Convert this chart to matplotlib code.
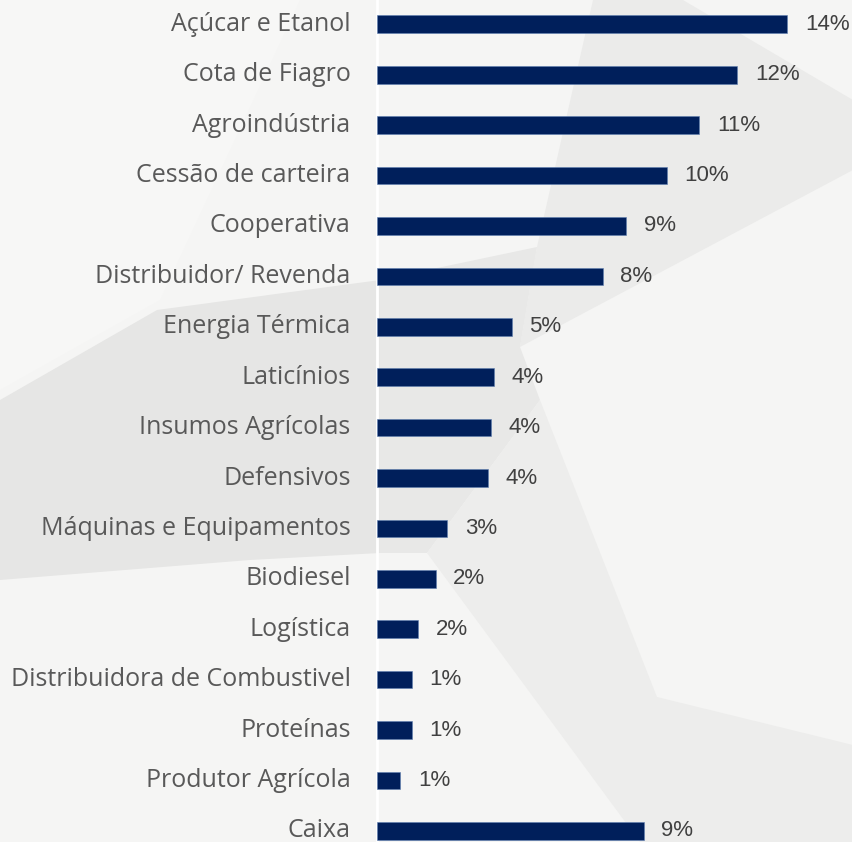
import matplotlib.pyplot as plt
import matplotlib.transforms as mtransforms
from matplotlib.patches import Polygon


# ==========================================================
# DATA
# ==========================================================

categories = [
    "Açúcar e Etanol",
    "Cota de Fiagro",
    "Agroindústria",
    "Cessão de carteira",
    "Cooperativa",
    "Distribuidor/ Revenda",
    "Energia Térmica",
    "Laticínios",
    "Insumos Agrícolas",
    "Defensivos",
    "Máquinas e Equipamentos",
    "Biodiesel",
    "Logística",
    "Distribuidora de Combustivel",
    "Proteínas",
    "Produtor Agrícola",
    "Caixa",
]

# share of portfolio, %
values = [14.0, 12.3, 11.0, 9.9, 8.5, 7.7, 4.6, 4.0, 3.9, 3.8,
          2.4, 2.0, 1.4, 1.2, 1.2, 0.8, 9.1]

value_labels = ["14%", "12%", "11%", "10%", "9%", "8%", "5%", "4%", "4%",
                "4%", "3%", "2%", "2%", "1%", "1%", "1%", "9%"]


# ==========================================================
# FIGURE
# ==========================================================

W, H = 853, 842
fig = plt.figure(figsize=(W / 100, H / 100), dpi=100)
fig.patch.set_facecolor("#f5f5f4")


def px(points):
    # pixel coords (top-left origin) -> figure fraction
    return [(x / W, 1 - y / H) for x, y in points]


# ----------------------------------------------------------
# decorative background (soft grey geometric shapes)
# ----------------------------------------------------------
shapes = [
    ([(0, 0), (300, 0), (160, 300), (0, 390)], "#f7f7f6"),
    ([(0, 400), (157, 310), (380, 280), (380, 553), (250, 560), (0, 580)], "#e6e6e5"),
    ([(593, 0), (683, 0), (853, 100), (853, 170), (520, 347), (537, 247)], "#ebebea"),
    ([(380, 280), (537, 247), (520, 347), (540, 400), (427, 553), (380, 553)], "#e8e8e7"),
    ([(540, 400), (657, 697), (853, 745), (853, 842), (640, 842), (427, 553)], "#ededec"),
]
for pts, col in shapes:
    fig.patches.append(
        Polygon(px(pts), closed=True, transform=fig.transFigure,
                facecolor=col, edgecolor="none", zorder=-1)
    )

ax = fig.add_axes([377 / W, 0, 1 - 377 / W, 1])
ax.set_zorder(2)
ax.patch.set_alpha(0)

# ==========================================================
# BARS
# ==========================================================

y_pos = list(range(len(categories)))
ax.barh(y_pos, values, height=0.35, color="#001f5b",
        edgecolor="#5f7fb0", linewidth=0.4, zorder=3)

for y, v, lab in zip(y_pos, values, value_labels):
    ax.text(v + 0.6, y, lab, va="center", ha="left",
            fontsize=16, color="#404040", family="Liberation Sans")

# ==========================================================
# AXES SETTINGS
# ==========================================================

ax.set_xlim(0, 476 / 29.3)
ax.set_ylim(16.22, -0.482)

ax.set_yticks(y_pos)
ax.set_yticklabels(categories, fontsize=18, color="#595959",
                   family="Open Sans")
ax.tick_params(axis="y", length=0, pad=19)
ax.set_xticks([])

# nudge category labels up a little so the last one stays inside
shift = mtransforms.ScaledTranslation(0, 3 / 100, fig.dpi_scale_trans)
for lab in ax.get_yticklabels():
    lab.set_transform(lab.get_transform() + shift)

for side in ["top", "right", "bottom"]:
    ax.spines[side].set_visible(False)
ax.spines["left"].set_color("white")
ax.spines["left"].set_linewidth(2)

fig.savefig("out.png", dpi=100, facecolor=fig.get_facecolor())
